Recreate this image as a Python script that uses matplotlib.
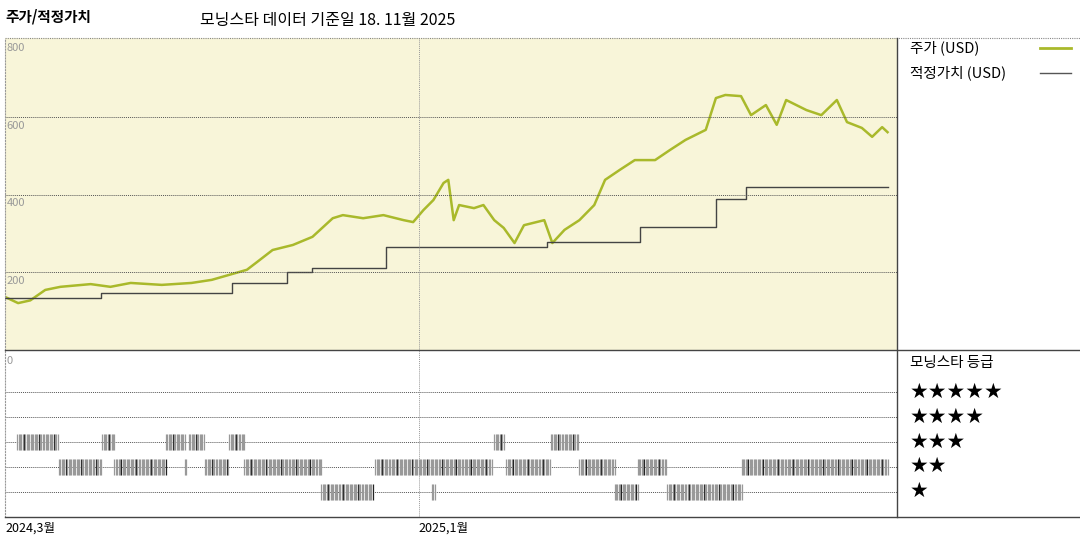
import matplotlib
matplotlib.use("Agg")
import matplotlib.pyplot as plt
import pandas as pd
import numpy as np

plt.rcParams['font.family'] = ['Noto Sans CJK KR', 'DejaVu Sans']

START = pd.Timestamp('2024-03-01')
# days since START
price_day = [0, 9.7, 18.7, 29.8, 41, 63.4, 78, 93, 116, 138, 153, 168, 179, 186.5, 198, 213, 227.5, 242.5, 250, 265,
             280, 295, 302, 309.6, 317, 324.5, 328, 332, 336, 347, 354, 362, 369, 377, 384, 399, 405, 414, 425, 436,
             444, 455, 466, 481, 492, 503.5, 518.5, 526, 533, 544.6, 552, 563, 571, 578, 593, 604, 615.5, 623, 634,
             641.6, 649, 653]
price_val = [137, 121, 128, 155, 163, 170, 163, 173, 168, 173, 181, 196, 207, 227, 258, 271, 292, 340, 348, 340,
             348, 335, 330, 361, 387, 431, 439, 335, 374, 366, 374, 335, 315, 276, 322, 335, 276, 310, 335, 374,
             439, 465, 490, 490, 516, 542, 568, 650, 658, 655, 606, 632, 581, 645, 619, 606, 645, 588, 573,
             550, 575, 562]
fair_day = [0, 71, 168, 209, 227.5, 282, 401, 470, 526, 548, 653]
fair_val = [134, 147, 173, 201, 212, 266, 279, 317, 390, 420, 420]
# rating segments: (start day, end day, stars)
rating_start = [9, 72, 119, 136, 166, 362, 404,
                40, 81, 133, 148, 177, 274, 371, 425, 468, 545,
                234, 316, 451, 490]
rating_end = [39, 81, 133, 147, 177, 369, 424,
              71, 119, 134, 165, 234, 360, 403, 451, 489, 653,
              272, 318, 468, 545]
rating_star = [3, 3, 3, 3, 3, 3, 3,
               2, 2, 2, 2, 2, 2, 2, 2, 2, 2,
               1, 1, 1, 1]
xtick_labels = ['2024,3월', '2025,1월']
xtick_dates = ['2024-03-01', '2025-01-01']
ytick_vals = [800, 600, 400, 200]

def d(days):
    return START + pd.to_timedelta(np.asarray(days, dtype=float), unit='D')

fig = plt.figure(figsize=(10.8, 5.4), dpi=100)
L, W = 5/1080, 892/1080
ax = fig.add_axes([L, 190/540, W, 312/540])
ax2 = fig.add_axes([L, 23/540, W, 167/540])
xmin, xmax = START, d(660)

ax.set_facecolor('#f8f5d9')
ax.plot(d(price_day), price_val, color='#a9b92b', lw=1.8)
ax.plot(d(fair_day), fair_val, color='#444444', lw=1.0, drawstyle='steps-post')
ax.set_ylim(0, 805)
ax.set_xlim(xmin, xmax)
for v in [600, 400, 200]:
    ax.axhline(v, color='#555', lw=0.7, ls=(0, (1, 1)))
for v in ytick_vals:
    ax.text(0.002, v - 8, str(v), transform=ax.get_yaxis_transform(), fontsize=8, color='#999', va='top')
ax.axvline(pd.Timestamp(xtick_dates[1]), color='#999', lw=0.7, ls=(0, (1, 1)))

for s, e, r in zip(rating_start, rating_end, rating_star):
    days = pd.date_range(d(s), d(e), freq='D')
    cols = ['#222' if i % 11 == 5 else '#999' for i in range(len(days))]
    ax2.vlines(days, r - 0.33, r + 0.33, colors=cols, lw=0.9)
ax2.set_ylim(0, 6.7)
ax2.set_xlim(xmin, xmax)
for r in range(1, 6):
    ax2.axhline(r, color='#555', lw=0.7, ls=(0, (1, 1)), zorder=0)
ax2.axvline(pd.Timestamp(xtick_dates[1]), color='#999', lw=0.7, ls=(0, (1, 1)))
ax2.text(0.002, 6.45, '0', transform=ax2.get_yaxis_transform(), fontsize=8, color='#999', va='top')
for lab, dt in zip(xtick_labels, xtick_dates):
    ax2.text(pd.Timestamp(dt), -0.2, lab, fontsize=9, va='top', ha='left')

for a in (ax, ax2):
    a.set_xticks([]); a.set_yticks([])
    for sp in a.spines.values():
        sp.set_visible(False)
    a.spines['left'].set_visible(True); a.spines['left'].set_color('#999'); a.spines['left'].set_linestyle(':')

def fl(x0, y0, x1, y1, **kw):
    fig.add_artist(plt.Line2D([x0/1080, x1/1080], [1 - y0/540, 1 - y1/540], **kw))

fl(5, 38, 1080, 38, color='#888', lw=0.8, ls=(0, (1, 1)))
fl(897, 38, 897, 517, color='#444', lw=1)
fl(5, 350, 1080, 350, color='#444', lw=1)
fl(5, 517, 1080, 517, color='#444', lw=1)

fig.text(5/1080, 1 - 17/540, '주가/적정가치', fontsize=10.5, fontweight='bold', va='center')
fig.text(200/1080, 1 - 20/540, '모닝스타 데이터 기준일 18. 11월 2025', fontsize=11.5, va='center')
fig.text(910/1080, 1 - 48/540, '주가 (USD)', fontsize=10.5, va='center')
fl(1040, 48, 1071, 48, color='#a9b92b', lw=2)
fig.text(910/1080, 1 - 73/540, '적정가치 (USD)', fontsize=10.5, va='center')
fl(1040, 73, 1071, 73, color='#555', lw=1)
fig.text(910/1080, 1 - 363/540, '모닝스타 등급', fontsize=10.5, va='center')
for i, n in enumerate([5, 4, 3, 2, 1]):
    fig.text(910/1080, 1 - (392 + 24.8*i)/540, '★' * n, fontsize=15, va='center',
             family=['DejaVu Sans'])

fig.savefig('out.png', dpi=100)
